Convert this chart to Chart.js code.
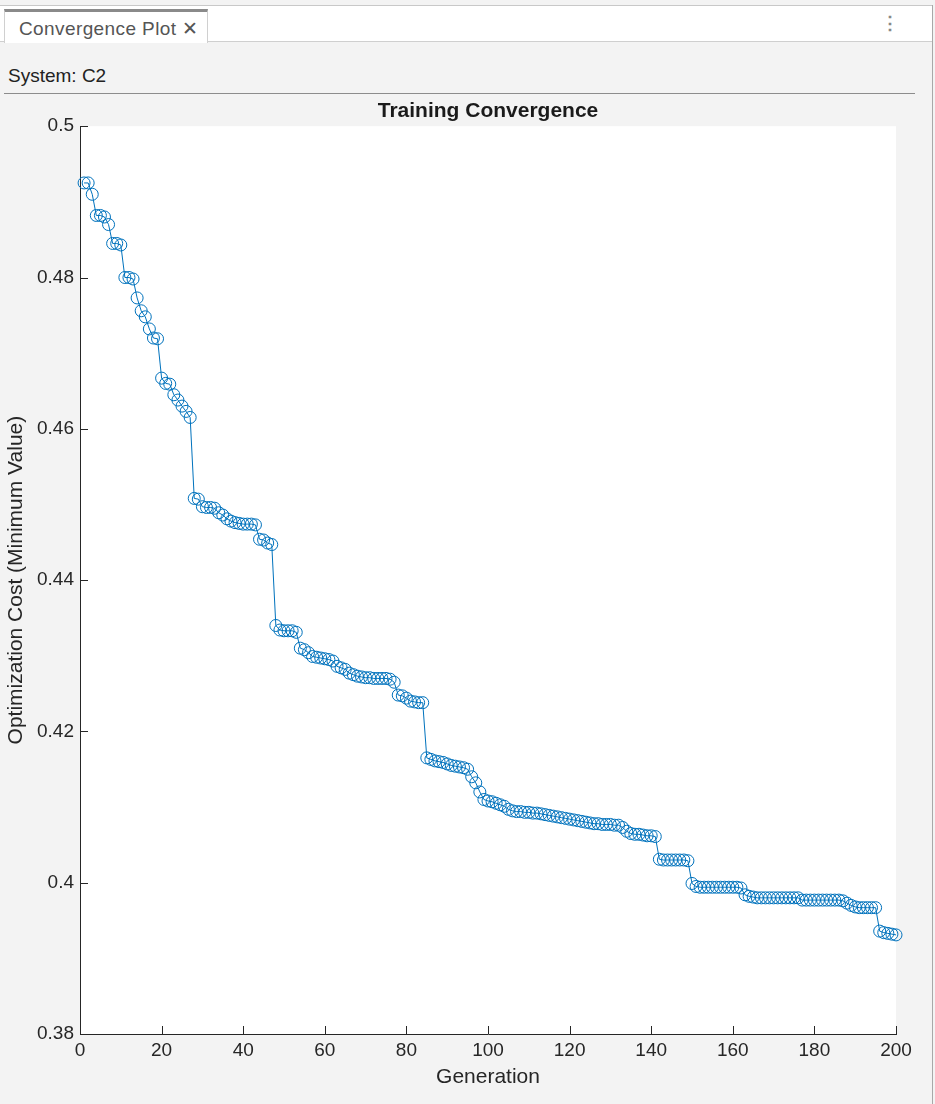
<!DOCTYPE html>
<html>
<head>
<meta charset="utf-8">
<title>Convergence Plot</title>
<script src="https://cdn.jsdelivr.net/npm/chart.js@4"></script>
<style>
  html, body { margin: 0; padding: 0; }
  body { width: 935px; height: 1104px; background: #f3f3f3; position: relative; overflow: hidden;
         font-family: "Liberation Sans", Arial, sans-serif; }
  #tabbar { position: absolute; left: 0; top: 5px; width: 933px; height: 37px; background: #fff;
            border-top: 1px solid #c8c8c8; border-bottom: 1px solid #cfcfcf; box-sizing: border-box; }
  #tab { position: absolute; left: 4px; top: 3px; width: 204px; height: 34px; background: #fff;
         border-top: 3px solid #8a8a8a; border-left: 1px solid #d0d0d0; border-right: 1px solid #d0d0d0;
         box-sizing: border-box; font-size: 19px; color: #555; padding: 5px 0 0 14px; white-space: nowrap;
         letter-spacing: 0.4px; }
  #menu { position: absolute; right: 34px; top: 6px; color: #888; font-size: 18px; font-weight: bold; }
  #system { position: absolute; left: 8px; top: 65px; font-size: 19px; color: #222; }
  #rule { position: absolute; left: 4px; top: 93px; width: 911px; height: 1px; background: #8c8c8c; }
  #edge { position: absolute; left: 932px; top: 5px; width: 1px; height: 1099px; background: #a8a8a8; }
  #chartbox { position: absolute; left: 0; top: 0; width: 935px; height: 1104px; }
</style>
</head>
<body>
<div id="tabbar">
  <div id="tab">Convergence Plot &#x2715;</div>
  <div id="menu">&#x22EE;</div>
</div>
<div id="system">System: C2</div>
<div id="rule"></div>
<div id="edge"></div>
<div id="chartbox"><canvas id="convChart"></canvas></div>
<script>
// best cost per generation
var generations = [];
for (var g = 1; g <= 200; g++) generations.push(g);

var bestCost = [
  0.4925, 0.4925, 0.4910, 0.4882, 0.4882, 0.4880, 0.4870, 0.4845, 0.4845, 0.4843,
  0.4800, 0.4800, 0.4798, 0.4773, 0.4756, 0.4748, 0.4732, 0.4720, 0.4719, 0.4667,
  0.4660, 0.4659, 0.4645, 0.4638, 0.4630, 0.4623, 0.4615, 0.4508, 0.4507, 0.4497,
  0.4496, 0.4496, 0.4495, 0.4489, 0.4486, 0.4481, 0.4478, 0.4476, 0.4475, 0.4474,
  0.4474, 0.4474, 0.4473, 0.4454, 0.4453, 0.4449, 0.4447, 0.4340, 0.4334, 0.4333,
  0.4333, 0.4333, 0.4331, 0.4310, 0.4308, 0.4304, 0.4299, 0.4298, 0.4297, 0.4296,
  0.4295, 0.4293, 0.4286, 0.4284, 0.4282, 0.4277, 0.4275, 0.4273, 0.4272, 0.4271,
  0.4271, 0.4270, 0.4270, 0.4270, 0.4270, 0.4269, 0.4265, 0.4248, 0.4247, 0.4244,
  0.4240, 0.4239, 0.4238, 0.4238, 0.4165, 0.4163, 0.4161, 0.4160, 0.4159, 0.4157,
  0.4155, 0.4154, 0.4153, 0.4152, 0.4150, 0.4140, 0.4132, 0.4120, 0.4110, 0.4108,
  0.4107, 0.4105, 0.4103, 0.4101, 0.4097, 0.4095, 0.4094, 0.4094, 0.4093, 0.4093,
  0.4092, 0.4092, 0.4091, 0.4090, 0.4089, 0.4088, 0.4087, 0.4086, 0.4085, 0.4084,
  0.4083, 0.4082, 0.4081, 0.4080, 0.4079, 0.4078, 0.4078, 0.4077, 0.4077, 0.4077,
  0.4076, 0.4076, 0.4073, 0.4068, 0.4065, 0.4064, 0.4064, 0.4063, 0.4062, 0.4062,
  0.4061, 0.4031, 0.4030, 0.4030, 0.4030, 0.4030, 0.4030, 0.4030, 0.4029, 0.3999,
  0.3995, 0.3994, 0.3994, 0.3994, 0.3994, 0.3994, 0.3994, 0.3994, 0.3994, 0.3994,
  0.3994, 0.3993, 0.3984, 0.3982, 0.3981, 0.3980, 0.3980, 0.3980, 0.3980, 0.3980,
  0.3980, 0.3980, 0.3980, 0.3980, 0.3980, 0.3980, 0.3977, 0.3977, 0.3977, 0.3977,
  0.3977, 0.3977, 0.3977, 0.3977, 0.3977, 0.3977, 0.3976, 0.3973, 0.3970, 0.3968,
  0.3967, 0.3967, 0.3967, 0.3967, 0.3967, 0.3936, 0.3934, 0.3933, 0.3932, 0.3931
];

var xTicks = [0, 20, 40, 60, 80, 100, 120, 140, 160, 180, 200];
var yTicks = [0.38, 0.40, 0.42, 0.44, 0.46, 0.48, 0.50];

var axisColor = '#262626';
var lineBlue = '#0072BD';

// white axes background + inward tick marks
var axesDecor = {
  id: 'axesDecor',
  beforeDraw: function (chart) {
    var a = chart.chartArea, c = chart.ctx;
    c.save();
    c.fillStyle = '#ffffff';
    c.fillRect(a.left, a.top, a.right - a.left, a.bottom - a.top);
    c.restore();
  },
  afterDatasetsDraw: function (chart) {
    var a = chart.chartArea, c = chart.ctx;
    var xs = chart.scales.x, ys = chart.scales.y;
    c.save();
    c.strokeStyle = axisColor;
    c.lineWidth = 1;
    c.beginPath();
    xTicks.forEach(function (t) {
      var px = Math.round(xs.getPixelForValue(t)) + 0.5;
      c.moveTo(px, a.bottom);
      c.lineTo(px, a.bottom - 8);
    });
    yTicks.forEach(function (t) {
      var py = Math.round(ys.getPixelForValue(t)) + 0.5;
      c.moveTo(a.left, py);
      c.lineTo(a.left + 8, py);
    });
    c.stroke();
    c.restore();
  }
};

var ctx = document.getElementById('convChart').getContext('2d');
var convChart = new Chart(ctx, {
  type: 'line',
  data: {
    labels: generations,
    datasets: [{
      label: 'Best cost',
      data: generations.map(function (g, i) { return { x: g, y: bestCost[i] }; }),
      borderColor: lineBlue,
      borderWidth: 1,
      backgroundColor: 'rgba(0,0,0,0)',
      pointStyle: 'circle',
      pointRadius: 6,
      pointBorderWidth: 1,
      pointBorderColor: lineBlue,
      pointBackgroundColor: 'rgba(0,0,0,0)',
      tension: 0,
      fill: false,
      clip: false
    }]
  },
  options: {
    responsive: true,
    maintainAspectRatio: false,
    animation: false,
    devicePixelRatio: 1,
    layout: { padding: { top: 99, right: 39, bottom: 0, left: 0 } },
    plugins: {
      legend: { display: false },
      tooltip: { enabled: false },
      title: {
        display: true,
        fullSize: false,
        text: 'Training Convergence',
        color: '#1a1a1a',
        font: { family: 'Liberation Sans', size: 21, weight: 'bold', lineHeight: 1.2 },
        padding: { top: 0, bottom: 2 }
      }
    },
    scales: {
      x: {
        type: 'linear',
        min: 0,
        max: 200,
        afterFit: function (s) { s.height = 70; },
        afterBuildTicks: function (s) { s.ticks = xTicks.map(function (v) { return { value: v }; }); },
        border: { display: true, color: axisColor, width: 1 },
        grid: { display: false, drawTicks: false },
        ticks: {
          color: axisColor,
          padding: 5,
          font: { family: 'Liberation Sans', size: 19 },
          maxRotation: 0,
          autoSkip: false
        },
        title: {
          display: true,
          text: 'Generation',
          color: axisColor,
          font: { family: 'Liberation Sans', size: 21 },
          padding: { top: 14, bottom: 14 }
        }
      },
      y: {
        type: 'linear',
        min: 0.38,
        max: 0.5,
        afterFit: function (s) { s.width = 80; },
        afterBuildTicks: function (s) { s.ticks = yTicks.map(function (v) { return { value: v }; }); },
        border: { display: true, color: axisColor, width: 1 },
        grid: { display: false, drawTicks: false },
        ticks: {
          color: axisColor,
          padding: 6,
          font: { family: 'Liberation Sans', size: 19 },
          autoSkip: false,
          callback: function (v) { return String(parseFloat(v.toFixed(2))); }
        },
        title: {
          display: true,
          text: 'Optimization Cost (Minimum Value)',
          color: axisColor,
          font: { family: 'Liberation Sans', size: 21 },
          padding: { top: 4, bottom: 0 }
        }
      }
    }
  },
  plugins: [axesDecor]
});
</script>
</body>
</html>
